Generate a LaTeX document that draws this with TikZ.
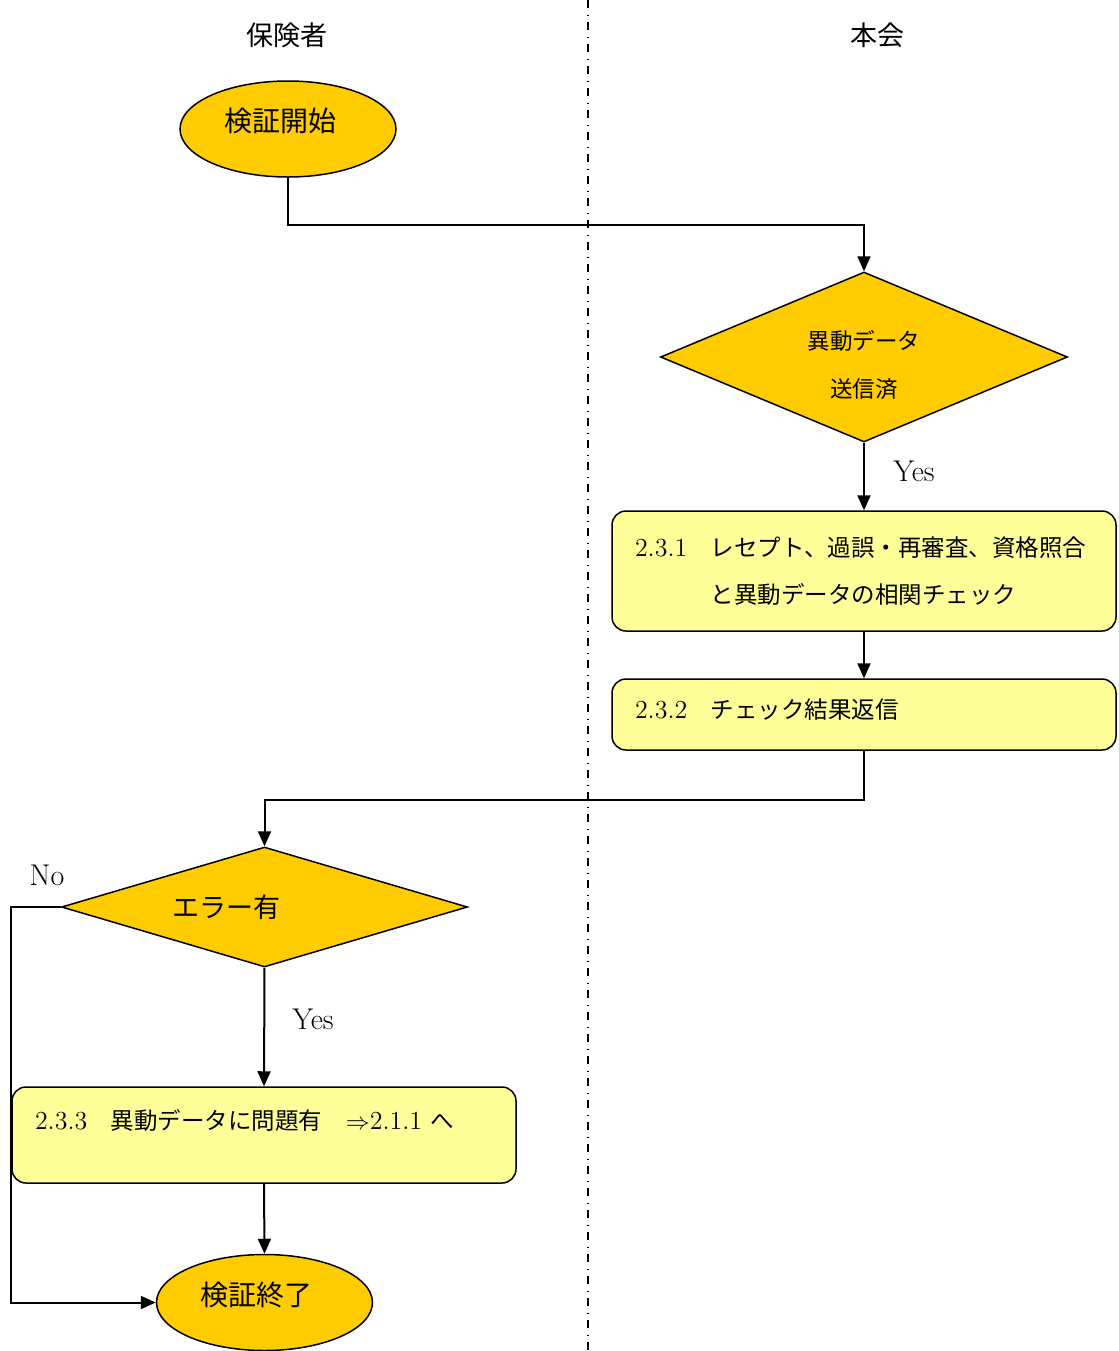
\documentclass[tikz,border=0pt]{standalone}
\usepackage{fontspec}
\newfontfamily\jp{Noto Sans CJK JP}
\newcommand{\jb}{\jp\fontsize{11.75}{23.5}\selectfont}
\usetikzlibrary{arrows.meta,positioning,shapes.geometric}
\definecolor{termgold}{HTML}{FFCC00}
\definecolor{procyellow}{HTML}{FFFF99}

\begin{document}
\begin{tikzpicture}[x=0.5pt, y=-0.5pt,
    >={Triangle[length=7.5pt,width=6.5pt]},
    flow/.style={->, line width=1pt},
    terminal/.style={draw, ellipse, fill=termgold, line width=0.75pt,
        minimum width=108pt, minimum height=48pt, inner sep=0pt,
        font=\jp\fontsize{14}{16}\selectfont,
        text height=10pt, text depth=7.5pt,
        execute at end node={\hspace{8pt}}},
    decision/.style={draw, diamond, fill=termgold, line width=0.75pt,
        inner sep=0pt},
    process/.style={draw, rounded corners=7pt, fill=procyellow,
        line width=0.75pt, minimum width=252pt, text width=229pt,
        inner xsep=11.5pt, align=left,
        font=\fontsize{13}{23.5}\selectfont},
    lane/.style={line width=0.65pt,
        dash pattern=on 4pt off 3.25pt on 0.5pt off 3.25pt},
    yesno/.style={font=\fontsize{15}{17}\selectfont},
    lanehead/.style={font=\jp\fontsize{13.5}{16}\selectfont}]
\useasboundingbox (0,0) rectangle (1119,1351);

% swim lanes
\draw[lane] (588,0) -- (588,1351);
\node[lanehead] (insurer) at (287,35) {保険者};
\node[lanehead] (assoc)   at (877,35) {本会};

% nodes
\node[terminal] (start) at (288,129) {検証開始};
\node[decision, minimum width=203.5pt, minimum height=85pt, aspect=2.4,
      align=center, font=\jp\fontsize{11.25}{24}\selectfont]
    (sent) at (864,357) {\rule{0pt}{18pt}異動データ\\送信済};
\node[process, minimum height=60pt] (recon) at (864,571)
    {2.3.1{\jb 　レセプト、過誤・再審査、資格照合}\\
     \phantom{2.3.1{\jb 　}}{\jb と異動データの相関チェック}};
\node[process, minimum height=35.5pt, text height=10pt, text depth=5.7pt]
    (reply) at (864,714.5) {2.3.2{\jb 　チェック結果返信}};
\node[decision, minimum width=203pt, minimum height=60pt, aspect=3.4,
      font=\jp\fontsize{13.5}{16}\selectfont]
    (haserr) at (264.5,907) {エラー有\hspace*{38pt}};
\node[process, minimum height=48pt, text height=10pt, text depth=16pt]
    (probl) at (264,1135)
    {2.3.3{\jb 　異動データに問題有　}$\Rightarrow$2.1.1 {\jb へ}};
\node[terminal] (fin) at (264.5,1302.5) {検証終了};

% connectors
\draw[flow] (start.south) -- ++(0,47) -| (sent.north);
\draw[flow] (sent.south) -- (recon.north);
\draw[flow] (recon.south) -- (reply.north);
\draw[flow] (reply.south) -- ++(0,49) -| (haserr.north);
\draw[flow] (haserr.south) -- (probl.north);
\draw[flow] (probl.south) -- (fin.north);
\draw[flow] (haserr.west) -- ++(-50,0) |- (fin.west);

% labels
\node[yesno] (yes1) at (914,471) {Yes};
\node[yesno] (yes2) at (313,1019) {Yes};
\node[yesno] (no)   at (47,875) {No};
\end{tikzpicture}
\end{document}
